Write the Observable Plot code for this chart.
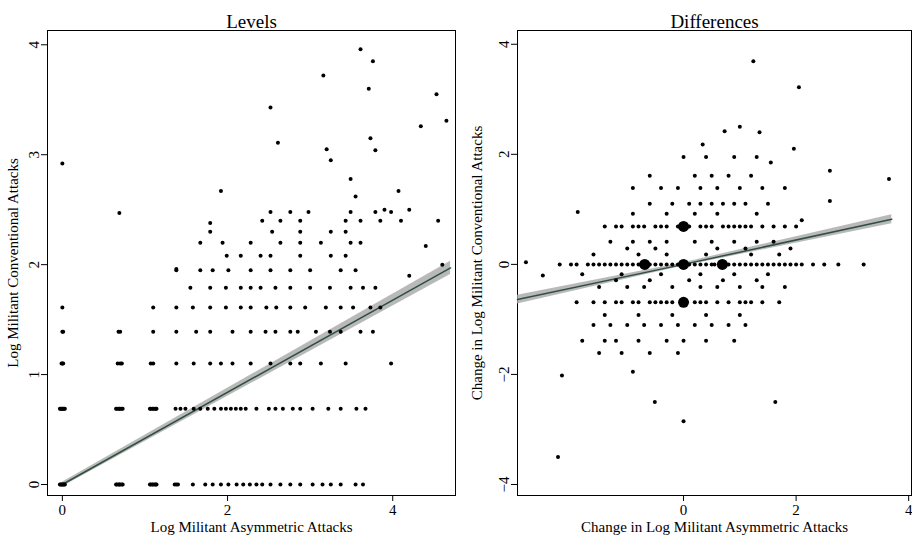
<!DOCTYPE html>
<html>
<head>
<meta charset="utf-8">
<script src="https://cdn.jsdelivr.net/npm/d3@7"></script>
<script src="https://cdn.jsdelivr.net/npm/@observablehq/plot@0.6"></script>
<style>
  body { margin: 0; background: #fff; }
  #wrap { display: flex; width: 912px; }
  svg { font-family: "Liberation Serif", serif; }
</style>
</head>
<body>
<div id="wrap"></div>
<script>
// Levels: rows of [y, x values]
var levelRows = [
  [0, [-0.03,-0.02,-0.01,0,0.01,0.02,0.03,0.65,0.66,0.68,0.69,0.7,0.72,0.73,1.06,1.07,1.09,1.1,1.12,1.13,1.14,1.36,1.38,1.4,1.58,1.73,1.82,1.92,2.01,2.11,2.19,2.27,2.35,2.42,2.52,2.64,2.76,2.88,3.03,3.15,3.25,3.37,3.55,3.64]],
  [0.69, [-0.03,-0.02,-0.01,0,0.01,0.02,0.03,0.65,0.66,0.68,0.69,0.7,0.72,0.73,1.06,1.07,1.09,1.1,1.12,1.13,1.14,1.37,1.43,1.49,1.59,1.67,1.76,1.84,1.92,1.98,2.04,2.1,2.16,2.22,2.35,2.5,2.58,2.67,2.79,2.88,3.03,3.22,3.37,3.56,3.67]],
  [1.1, [-0.01,0,0.01,0.67,0.7,0.72,1.07,1.1,1.38,1.59,1.79,1.92,2.06,2.28,2.52,2.76,2.88,3.13,3.43,3.98]],
  [1.39, [0,0.01,0.68,0.7,1.1,1.38,1.62,1.79,2.06,2.28,2.46,2.58,2.76,2.85,3.07,3.24,3.37,3.61,3.76]],
  [1.61, [0,1.1,1.38,1.58,1.79,1.98,2.16,2.28,2.47,2.59,2.76,2.94,3.19,3.37,3.52,3.73,3.85]],
  [1.79, [1.55,1.79,1.98,2.16,2.28,2.4,2.58,2.76,3.0,3.24,3.49,3.64,3.79]],
  [1.95, [1.38,1.67,1.82,2.01,2.28,2.52,2.76,3.0,3.37,3.55]],
  [2.08, [1.99,2.16,2.4,2.52,2.88,3.25,3.43]],
  [2.2, [1.67,1.94,2.28,2.64,2.88,3.13,3.49,3.61]],
  [2.3, [2.54,2.88,3.25,3.43]],
  [2.4, [2.42,2.64,2.88,3.43,3.61,3.85,4.1]],
  [2.48, [2.52,2.76,2.98,3.49,3.79,3.98]]
];
var levelOthers = [[0,2.92],[0.69,2.47],[1.92,2.67],[2.52,3.43],[2.61,3.11],[3.16,3.72],[3.2,3.05],[3.25,2.95],[3.61,3.96],[3.76,3.85],[3.71,3.6],[3.73,3.15],[3.79,3.04],[4.07,2.67],[4.34,3.26],[4.53,3.55],[4.65,3.31],[4.4,2.17],[4.55,2.4],[3.49,2.78],[3.55,2.62],[1.38,1.96],[1.79,2.3],[4.2,1.9],[4.6,2.0],[3.9,2.5],[4.2,2.5],[1.79,2.38]];
// fitted line and 95% band for Levels
var levelFitX = [0, 4.7];
var levelFitY = [0.0, 1.97];
var levelFitLo = [-0.02, 1.91];
var levelFitHi = [0.02, 2.03];

// Differences: rows of [y, x values]
var diffRows = [
  [0, [-2.2,-2.0,-1.9,-1.7,-1.6,-1.5,-1.4,-1.3,-1.2,-1.1,-1.0,-0.9,-0.8,-0.75,-0.6,-0.5,-0.4,-0.3,-0.2,-0.1,0.1,0.2,0.3,0.4,0.5,0.55,0.8,0.9,1.0,1.1,1.2,1.3,1.4,1.5,1.6,1.7,1.8,1.9,2.0,2.1,2.3,2.5,2.75,3.2]],
  [0.69, [-1.4,-1.2,-1.1,-0.9,-0.8,-0.7,-0.5,-0.4,-0.3,-0.1,0.1,0.3,0.4,0.5,0.7,0.8,0.9,1.0,1.1,1.2,1.4,1.6,1.8,2.0]],
  [-0.69, [-1.9,-1.6,-1.4,-1.2,-1.1,-0.9,-0.8,-0.6,-0.5,-0.4,-0.3,-0.2,0.2,0.3,0.4,0.6,0.8,1.0,1.1,1.2,1.4,1.7]],
  [0.41, [-1.3,-0.9,-0.6,-0.3,0.2,0.5,0.9,1.3,1.6]],
  [-0.41, [-1.5,-1.0,-0.7,-0.2,0.3,0.6,1.0,1.4,1.8]],
  [0.18, [-1.6,-0.8,-0.3,0.4,1.2,1.7]],
  [-0.18, [-1.8,-1.1,-0.4,0.3,0.9,1.5]],
  [0.29, [-1.0,-0.5,0.6,1.1,1.9]],
  [-0.29, [-1.2,-0.6,0.1,0.7,1.3]],
  [1.1, [-0.6,-0.2,0.1,0.3,0.5,0.7,0.9,1.1,1.5]],
  [-1.1, [-1.6,-1.3,-1.0,-0.7,-0.4,-0.1,0.2,0.5,0.8,1.1]],
  [0.92, [-0.9,-0.3,0.2,0.6,1.3]],
  [-0.92, [-1.4,-0.8,-0.2,0.4,1.0]],
  [1.39, [-0.9,-0.4,-0.1,0.3,0.6,1.0,1.4,1.8]],
  [-1.39, [-1.8,-1.4,-1.2,-0.8,-0.3,0.0,0.4,0.9]],
  [1.61, [-0.6,0.2,0.5,0.8,1.2]],
  [-1.61, [-1.5,-1.1,-0.6,-0.1]],
  [1.95, [0.0,0.4,0.9,1.3]],
  [-1.95, [-0.9]]
];
var diffOthers = [[-2.16,-2.02],[-2.23,-3.5],[-0.51,-2.5],[0,-2.85],[1.63,-2.5],[1.24,3.69],[2.05,3.22],[3.65,1.55],[-1.88,0.95],[-2.8,0.04],[-2.5,-0.2],[0.34,2.18],[1.0,2.5],[0.73,2.42],[1.35,2.4],[1.96,2.1],[1.55,1.85],[2.1,0.8],[2.6,1.7],[2.6,1.15]];
var diffBig = [[-0.69,0],[0,0],[0.69,0],[0,0.69],[0,-0.69]];
// fitted line and 95% band for Differences
var diffFitX = [-2.95, 0, 3.7];
var diffFitY = [-0.64, 0.0, 0.82];
var diffFitLo = [-0.72, -0.03, 0.74];
var diffFitHi = [-0.56, 0.03, 0.90];

function flat(rows, others) {
  var out = [];
  rows.forEach(function (r) { r[1].forEach(function (x) { out.push([x, r[0]]); }); });
  return out.concat(others);
}
function fit(xs, ys, lo, hi) {
  return xs.map(function (x, i) { return { x: x, y: ys[i], lo: lo[i], hi: hi[i] }; });
}
var levels = flat(levelRows, levelOthers);
var diffs = flat(diffRows, diffOthers);

function panel(o) {
  return Plot.plot({
    width: o.width, height: 539,
    marginLeft: o.ml, marginRight: o.mr, marginTop: 30, marginBottom: 44,
    style: { fontFamily: "Liberation Serif, serif", fontSize: "15px", color: "#000" },
    x: { domain: o.xd },
    y: { domain: o.yd },
    marks: [
      Plot.frame({ stroke: "#000" }),
      Plot.axisX({ ticks: o.xt, label: o.xl, labelAnchor: "center", labelArrow: "none", labelOffset: 36, fontSize: 15, tickFormat: d3.format("d") }),
      Plot.axisY({ ticks: o.yt, label: o.yl, labelAnchor: "center", labelArrow: "none", labelOffset: o.lo, fontSize: 15, tickRotate: -90, tickFormat: d3.format("d") }),
      Plot.areaY(o.fit, { x: "x", y1: "lo", y2: "hi", fill: "#a8a8a8", fillOpacity: 0.8 }),
      Plot.line(o.fit, { x: "x", y: "y", stroke: "#2f4f3f", strokeWidth: 1.5 }),
      Plot.dot(o.data, { x: "0", y: "1", r: 2, fill: "#000", stroke: "none" }),
      o.big ? Plot.dot(o.big, { x: "0", y: "1", r: 5.5, fill: "#000" }) : null,
      Plot.text([o.title], { frameAnchor: "top", dy: -16, fontSize: 19, fill: "#000" })
    ]
  });
}

var wrap = document.getElementById("wrap");
wrap.append(panel({ width: 460, ml: 47, mr: 5, xd: [-0.18, 4.76], yd: [-0.1, 4.13], xt: [0, 2, 4], yt: [0, 1, 2, 3, 4],
  xl: "Log Militant Asymmetric Attacks", yl: "Log Militant Conventional Attacks", lo: 40, data: levels,
  fit: fit(levelFitX, levelFitY, levelFitLo, levelFitHi), title: "Levels" }));
wrap.append(panel({ width: 452, ml: 57, mr: 1, xd: [-2.95, 4.05], yd: [-4.2, 4.25], xt: [0, 2, 4], yt: [-4, -2, 0, 2, 4],
  xl: "Change in Log Militant Asymmetric Attacks", yl: "Change in Log Militant Conventional Attacks", lo: 46, data: diffs, big: diffBig,
  fit: fit(diffFitX, diffFitY, diffFitLo, diffFitHi), title: "Differences" }));
</script>
</body>
</html>
